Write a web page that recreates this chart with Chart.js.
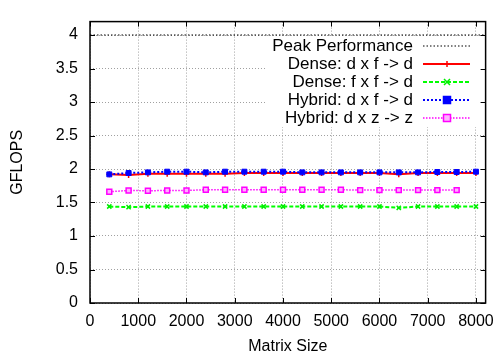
<!DOCTYPE html>
<html>
<head>
<meta charset="utf-8">
<script src="https://cdn.jsdelivr.net/npm/chart.js@4/dist/chart.umd.min.js"></script>
<style>
  body { margin: 0; background: #fff; }
  #wrap { width: 503px; height: 356px; }
</style>
</head>
<body>
<div id="wrap"><canvas id="myChart"></canvas></div>
<script>
// matrix sizes
const sizes = [400, 800, 1200, 1600, 2000, 2400, 2800, 3200, 3600, 4000,
               4400, 4800, 5200, 5600, 6000, 6400, 6800, 7200, 7600, 8000];
const peak = 4;
const denseDxF = [1.92, 1.91, 1.93, 1.93, 1.93, 1.93, 1.93, 1.94, 1.94, 1.94,
                  1.94, 1.94, 1.94, 1.94, 1.94, 1.92, 1.94, 1.94, 1.94, 1.94];
const denseFxF = [1.44, 1.43, 1.44, 1.44, 1.44, 1.44, 1.44, 1.44, 1.44, 1.44,
                  1.44, 1.44, 1.44, 1.44, 1.44, 1.42, 1.44, 1.44, 1.44, 1.44];
const hybridDxF = [1.92, 1.94, 1.95, 1.96, 1.96, 1.95, 1.96, 1.96, 1.96, 1.96,
                   1.95, 1.95, 1.95, 1.95, 1.95, 1.95, 1.95, 1.955, 1.955, 1.96];
const hybridDxZ = [1.66, 1.68, 1.675, 1.68, 1.68, 1.69, 1.69, 1.69, 1.69, 1.69,
                   1.69, 1.69, 1.69, 1.685, 1.685, 1.685, 1.685, 1.685, 1.685];
const xTicks = [0, 1000, 2000, 3000, 4000, 5000, 6000, 7000, 8000];
const yTicks = [0, 0.5, 1, 1.5, 2, 2.5, 3, 3.5, 4];
const xRange = [0, 8200];
const yRange = [0, 4.2];

const FONT = 'Liberation Sans, Arial, sans-serif';

function pts(vals) {
    return vals.map((v, i) => ({x: sizes[i], y: v}));
}

function drawMarker(ctx, style, x, y, r, color, fill) {
    ctx.save();
    ctx.strokeStyle = color;
    ctx.fillStyle = fill;
    ctx.lineWidth = 1.5;
    ctx.setLineDash([]);
    ctx.beginPath();
    if (style === 'cross') {
        ctx.moveTo(x - r, y); ctx.lineTo(x + r, y);
        ctx.moveTo(x, y - r); ctx.lineTo(x, y + r);
        ctx.stroke();
    } else if (style === 'crossRot') {
        ctx.moveTo(x - r, y - r); ctx.lineTo(x + r, y + r);
        ctx.moveTo(x - r, y + r); ctx.lineTo(x + r, y - r);
        ctx.stroke();
    } else if (style === 'rect') {
        ctx.rect(x - r, y - r, 2 * r, 2 * r);
        ctx.fill();
        ctx.stroke();
    }
    ctx.restore();
}

// frame, mirrored ticks and gnuplot style key
const gnuplotLook = {
    id: 'gnuplotLook',
    afterDatasetsDraw(chart) {
        const ctx = chart.ctx;
        const a = chart.chartArea;
        const xs = chart.scales.x, ys = chart.scales.y;
        ctx.save();
        // key box (opaque, no border)
        ctx.fillStyle = '#fff';
        ctx.fillRect(265, 36, 222, 91);
        ctx.strokeStyle = '#000';
        ctx.lineWidth = 1;
        ctx.setLineDash([]);
        ctx.beginPath();
        xs.ticks.forEach(t => {
            const px = Math.round(xs.getPixelForValue(t.value)) + 0.5;
            ctx.moveTo(px, a.bottom); ctx.lineTo(px, a.bottom - 5);
            ctx.moveTo(px, a.top); ctx.lineTo(px, a.top + 5);
        });
        ys.ticks.forEach(t => {
            const py = Math.round(ys.getPixelForValue(t.value)) + 0.5;
            ctx.moveTo(a.left, py); ctx.lineTo(a.left + 5, py);
            ctx.moveTo(a.right, py); ctx.lineTo(a.right - 5, py);
        });
        ctx.stroke();
        ctx.lineWidth = 1.5;
        ctx.strokeRect(a.left, a.top, a.right - a.left, a.bottom - a.top);

        ctx.font = '17px ' + FONT;
        ctx.textAlign = 'right';
        ctx.textBaseline = 'middle';
        chart.data.datasets.forEach((ds, i) => {
            const y = 46 + i * 18;
            ctx.fillStyle = '#000';
            ctx.fillText(ds.label, 413, y);
            ctx.strokeStyle = ds.borderColor;
            ctx.lineWidth = ds.borderWidth;
            ctx.setLineDash(ds.borderDash || []);
            ctx.beginPath();
            ctx.moveTo(423, y); ctx.lineTo(470, y);
            ctx.stroke();
            if (ds.pointRadius > 0) {
                drawMarker(ctx, ds.pointStyle, 447, y, ds.pointRadius, ds.pointBorderColor || ds.borderColor, ds.pointBackgroundColor);
            }
        });
        ctx.restore();
    }
};

Chart.defaults.font.family = FONT;
Chart.defaults.color = '#000';

new Chart('myChart', {
    type: 'line',
    data: {
        datasets: [
            {
                label: 'Peak Performance',
                data: [{x: xRange[0], y: peak}, {x: xRange[1], y: peak}],
                borderColor: '#000', borderWidth: 1.2, borderDash: [1.5, 2],
                pointRadius: 0, order: 5
            },
            {
                label: 'Dense: d x f -> d',
                data: pts(denseDxF),
                borderColor: '#ff0000', borderWidth: 2,
                pointStyle: 'cross', pointRadius: 3, pointBorderWidth: 1.5,
                pointBorderColor: '#ff0000', pointBackgroundColor: '#ff0000', order: 4
            },
            {
                label: 'Dense: f x f -> d',
                data: pts(denseFxF),
                borderColor: '#00ff00', borderWidth: 2, borderDash: [4, 2],
                pointStyle: 'crossRot', pointRadius: 3, pointBorderWidth: 1.5,
                pointBorderColor: '#00ee00', pointBackgroundColor: '#00ff00', order: 3
            },
            {
                label: 'Hybrid: d x f -> d',
                data: pts(hybridDxF),
                borderColor: '#0000ff', borderWidth: 2, borderDash: [2, 2],
                pointStyle: 'rect', pointRadius: 3.5, pointBorderWidth: 1,
                pointBorderColor: '#0000ff', pointBackgroundColor: '#0000ff', order: 2
            },
            {
                label: 'Hybrid: d x z -> z',
                data: pts(hybridDxZ),
                borderColor: '#ff00ff', borderWidth: 1.5, borderDash: [1.5, 1.5],
                pointStyle: 'rect', pointRadius: 3.5, pointBorderWidth: 1.5,
                pointBorderColor: '#ff00ff', pointBackgroundColor: '#ffb0ff', order: 1
            }
        ]
    },
    options: {
        responsive: true,
        maintainAspectRatio: false,
        animation: false,
        layout: {padding: {top: 12, right: 10, left: 0, bottom: 0}},
        plugins: {
            legend: {display: false},
            tooltip: {enabled: false}
        },
        scales: {
            x: {
                type: 'linear',
                min: xRange[0], max: xRange[1],
                grid: {color: '#a0a0a0', drawTicks: false},
                border: {display: false, dash: [1, 2]},
                ticks: {autoSkip: false, padding: 9, font: {size: 16}, maxRotation: 0,
                        callback: v => String(v)},
                afterBuildTicks(s) { s.ticks = xTicks.map(v => ({value: v})); },
                title: {display: true, text: 'Matrix Size', font: {size: 16}, padding: {top: 3, bottom: 0}},
                afterFit(s) { s.height = 53; }
            },
            y: {
                min: yRange[0], max: yRange[1],
                grid: {color: '#a0a0a0', drawTicks: false},
                border: {display: false, dash: [1, 2]},
                ticks: {autoSkip: false, padding: 12, font: {size: 16},
                        callback: v => String(v)},
                afterBuildTicks(s) { s.ticks = yTicks.map(v => ({value: v})); },
                title: {display: true, text: 'GFLOPS', font: {size: 16}, padding: {top: 8, bottom: 0}},
                afterFit(s) { s.width = 90; }
            }
        }
    },
    plugins: [gnuplotLook]
});
</script>
</body>
</html>
